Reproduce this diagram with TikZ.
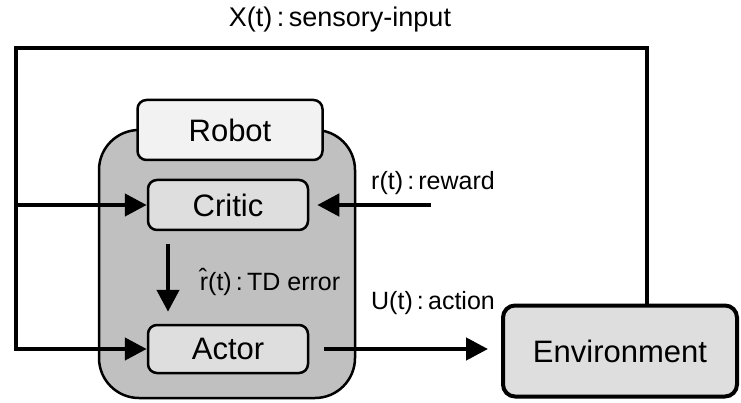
\documentclass[tikz,border=0pt]{standalone}
\usepackage{fontspec}
\setmainfont{Liberation Sans}
\usepackage{tikz}
\usetikzlibrary{arrows.meta, positioning, calc}

\definecolor{bodygray}{RGB}{192, 192, 192}
\definecolor{boxgray}{RGB}{222, 222, 222}
\definecolor{tabgray}{RGB}{242, 242, 242}

\tikzset{
  block/.style={draw, line width=2.5pt, rounded corners=9pt, fill=boxgray,
    font=\fontsize{31}{31}\selectfont, inner sep=0pt},
  wire/.style={line width=4.5pt},
  flow/.style={line width=4.5pt, -{Triangle[length=22pt, width=22pt]}},
  lbl/.style={font=\fontsize{25}{25}\selectfont, inner sep=0pt}
}

\begin{document}
\begin{tikzpicture}[x=1pt, y=-1pt]
  \useasboundingbox (0, 0) rectangle (741, 403);

  % Robot body
  \node[draw, line width=2.5pt, rounded corners=40pt, fill=bodygray,
    minimum width=256pt, minimum height=268pt] (body) at (227, 264) {};
  \node[block, fill=tabgray, minimum width=185pt, minimum height=60pt] (robot) at (230, 130) {Robot};

  % Critic and actor
  \node[block, minimum width=160pt, minimum height=50pt] (critic) at (228, 205) {Critic};
  \node[block, minimum width=160pt, minimum height=48pt] (actor) at (228, 349) {Actor};

  % Environment
  \node[block, line width=4pt, rounded corners=12pt, minimum width=234pt, minimum height=91pt] (env) at (620, 351) {Environment};

  % Sensory loop
  \coordinate (tl) at (16, 48);
  \coordinate (tr) at (647, 48);
  \draw[flow] (env.north -| tr) -- (tr) -- (tl) -- (tl |- actor.west) -- (actor.west);
  \node[lbl, font=\fontsize{27}{27}\selectfont] (xlbl) at (340, 20) {X(t)\,:\,sensory-input};
  \draw[flow] (tl |- critic.west) -- (critic.west);

  % Reward
  \coordinate (rwd) at (431, 205);
  \draw[flow, shorten >=8pt] (rwd) -- (critic.east);
  \node[lbl] (rlbl) at (433, 183) {r(t)\,:\,reward};

  % TD error
  \draw[flow, shorten <=13pt, shorten >=12pt] ([xshift=-60pt]critic.south) -- ([xshift=-60pt]actor.north);
  \node[lbl] (tdlbl) at (270, 282) {\^{r}(t)\,:\,TD error};

  % Action
  \draw[flow, shorten <=15pt, shorten >=13pt] (actor.east) -- (env.west |- actor.east);
  \node[lbl] (ulbl) at (433, 303) {U(t)\,:\,action};
\end{tikzpicture}
\end{document}
